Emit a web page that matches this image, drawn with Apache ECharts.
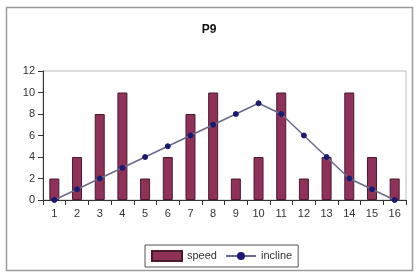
<!DOCTYPE html>
<html><head><meta charset="utf-8">
<script src="https://cdn.jsdelivr.net/npm/echarts@6/dist/echarts.min.js"></script>
<style>html,body{margin:0;padding:0;background:#fff}#c{width:418px;height:273px}</style>
</head><body><div id="c"></div>
<script>
const categories = ['1','2','3','4','5','6','7','8','9','10','11','12','13','14','15','16'];
const speed = [2,4,8,10,2,4,8,10,2,4,10,2,4,10,4,2];
const incline = [0,1,2,3,4,5,6,7,8,9,8,6,4,2,1,0];
const yTicks = {min:0, max:12, interval:2};

const chart = echarts.init(document.getElementById('c'), null, {renderer:'canvas'});
chart.setOption({
  animation:false,
  backgroundColor:'#fff',
  textStyle:{fontFamily:'Liberation Sans, Arial, sans-serif'},
  graphic:[{type:'rect', shape:{x:6.5,y:7.5,width:406,height:263}, style:{fill:'none', stroke:'#9a9a9a', lineWidth:1.5}, silent:true}],
  title:{text:'P9', left:'center', top:19, textStyle:{fontSize:12, fontWeight:'bold', color:'#111', fontFamily:'Liberation Sans, Arial, sans-serif'}},
  grid:{left:43, top:71, right:12, bottom:73, show:true, borderColor:'#bbbbbb', borderWidth:1, backgroundColor:'#fff'},
  legend:{
    bottom:6, left:145, itemGap:8, itemWidth:30, itemHeight:10,
    borderColor:'#555', borderWidth:1, padding:[5,6,5,6],
    textStyle:{fontSize:11, color:'#333'},
    data:[{name:'speed', icon:'rect'},{name:'incline'}]
  },
  xAxis:{type:'category', data:categories, boundaryGap:true,
    axisLine:{lineStyle:{color:'#333', width:1}},
    axisTick:{show:true, interval:0, length:5, lineStyle:{color:'#333'}},
    axisLabel:{fontSize:11, color:'#333', margin:8, interval:0}},
  yAxis:{type:'value', min:yTicks.min, max:yTicks.max, interval:yTicks.interval,
    axisLine:{show:true, lineStyle:{color:'#333', width:1}},
    axisTick:{show:true, length:5, lineStyle:{color:'#333'}},
    splitLine:{show:false},
    axisLabel:{fontSize:11, color:'#333', margin:8}},
  series:[
    {name:'speed', type:'bar', data:speed, barWidth:10,
     itemStyle:{color:'#8f3159', borderColor:'#4a1a30', borderWidth:1}},
    {name:'incline', type:'line', data:incline, symbol:'circle', symbolSize:5,
     lineStyle:{color:'#6a6a8a', width:1.5},
     itemStyle:{color:'#1a1a70', borderColor:'#1a1a70'}}
  ]
});
</script></body></html>
